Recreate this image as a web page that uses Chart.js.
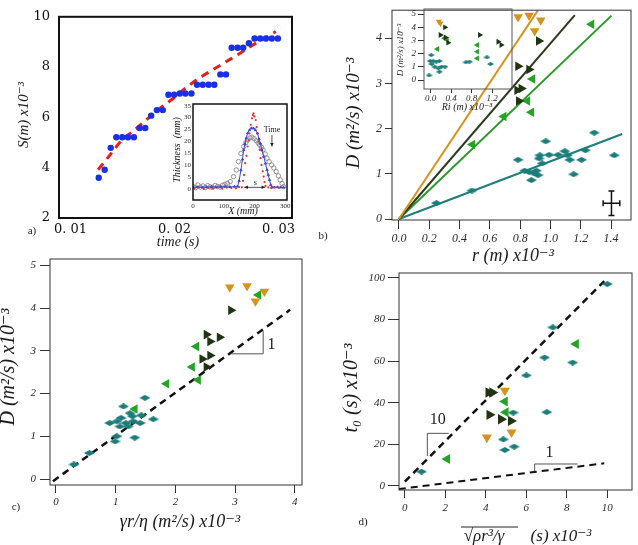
<!DOCTYPE html>
<html>
<head>
<meta charset="utf-8">
<script src="https://cdn.jsdelivr.net/npm/chart.js@4.4.1/dist/chart.umd.min.js"></script>
<style>
  html, body { margin: 0; padding: 0; background: #fff; }
  #page { position: relative; width: 638px; height: 545px; overflow: hidden; }
  #page canvas { position: absolute; left: 0; top: 0; }
</style>
</head>
<body>
<div id="page">
  <canvas id="chartA" width="638" height="545"></canvas>
  <canvas id="chartAInset" width="638" height="545"></canvas>
  <canvas id="chartB" width="638" height="545"></canvas>
  <canvas id="chartBInset" width="638" height="545"></canvas>
  <canvas id="chartC" width="638" height="545"></canvas>
  <canvas id="chartD" width="638" height="545"></canvas>
</div>
<script>
// panel a: spreading S vs time
const aTime = [0.01272, 0.01329, 0.01387, 0.01441, 0.01498, 0.01553, 0.0161, 0.01665, 0.01719, 0.01776, 0.01831, 0.01888, 0.01942, 0.01997, 0.02051, 0.02105, 0.02163, 0.02217, 0.02272, 0.02329, 0.02383, 0.02441, 0.02495, 0.0255, 0.02607, 0.02661, 0.02716, 0.0277, 0.02824, 0.02879, 0.02936, 0.02994];
const aS = [3.6, 3.92, 4.79, 5.21, 5.21, 5.21, 5.21, 5.58, 5.58, 6.07, 6.29, 6.29, 6.9, 6.9, 6.95, 6.95, 6.95, 7.3, 7.3, 7.3, 7.3, 7.71, 7.71, 8.77, 8.77, 8.77, 8.95, 9.14, 9.14, 9.14, 9.14, 9.14];
const aFitTime = [0.01265, 0.01377, 0.01489, 0.01601, 0.01728, 0.01856, 0.01984, 0.02112, 0.0224, 0.02367, 0.02495, 0.02623, 0.02751, 0.02879, 0.02974];
const aFitS = [3.92, 4.49, 5.07, 5.45, 5.9, 6.35, 6.74, 7.18, 7.57, 7.89, 8.21, 8.53, 8.87, 9.17, 9.42];
const aTicksX = [0.01, 0.02, 0.03];
const aTicksY = [2, 4, 6, 8, 10];

// inset of a: thickness profiles
const insetGrayX = [0, 8, 16, 24, 32, 40, 48, 56, 64, 72, 80, 88, 96, 104, 112, 121, 132, 141, 148, 156, 165, 172, 178, 185, 192, 199, 206, 212, 217, 223, 228, 235, 241, 248, 256, 263, 271, 278, 284, 290, 295];
const insetGrayY = [1.2, 0.6, 1.8, 0.9, 1.4, 0.7, 1.5, 1.0, 0.8, 1.6, 1.2, 0.9, 1.7, 2.0, 2.5, 3.2, 5.3, 8.1, 11.6, 15.0, 17.9, 19.5, 20.6, 21.5, 21.8, 21.2, 20.3, 19.4, 18.5, 17.6, 16.5, 14.8, 13.0, 11.5, 10.2, 8.9, 7.4, 5.6, 3.9, 2.4, 1.1];
const insetBlueX = [0, 15, 30, 45, 60, 75, 90, 105, 120, 135, 145, 150, 156, 161, 165, 169, 173, 178, 184, 190, 197, 203, 210, 215, 219, 224, 230, 236, 241, 245, 249, 253, 257, 265, 275, 285, 295];
const insetBlueY = [0.8, 0.9, 0.8, 0.9, 1.0, 0.9, 1.0, 1.1, 1.0, 1.1, 1.2, 3.5, 8.0, 12.5, 16.5, 19.0, 21.3, 23.5, 24.8, 25.6, 25.5, 24.8, 23.4, 21.0, 19.2, 16.5, 13.7, 10.8, 8.1, 6.0, 3.9, 1.8, 0.8, 0.8, 0.9, 0.8, 0.8];
const insetRedX = [5, 20, 35, 50, 65, 80, 95, 110, 125, 140, 150, 159, 163, 166, 170, 174, 178, 181, 184, 188, 192, 195, 197, 200, 204, 207, 210, 213, 217, 220, 223, 227, 230, 233, 236, 245, 255, 265, 280];
const insetRedY = [0.3, 0.8, 0.2, 0.6, 0.4, 0.9, 0.3, 0.7, 0.5, 0.4, 0.9, 0.8, 3.5, 6.0, 10.9, 14.0, 17.9, 20.5, 23.4, 27.0, 29.7, 31.0, 31.8, 30.5, 29.0, 26.0, 23.4, 20.0, 16.5, 13.0, 10.2, 7.5, 5.3, 3.0, 1.4, 0.8, 0.5, 0.9, 0.6];
const insetTicksX = [0, 100, 200, 300];
const insetTicksY = [0, 5, 10, 15, 20, 25, 30, 35];

// panel b: D vs r
const bTealX = [0.247, 0.482, 0.786, 0.859, 0.874, 0.892, 0.907, 0.918, 0.925, 0.93, 0.945, 0.969, 0.991, 1.051, 1.095, 1.112, 1.128, 1.154, 1.205, 1.231, 1.289, 1.421, 0.83];
const bTealY = [0.35, 0.63, 1.31, 1.04, 0.86, 1.01, 1.07, 0.97, 1.34, 1.41, 1.23, 1.72, 1.42, 1.42, 1.5, 1.41, 1.31, 0.99, 1.31, 1.52, 1.91, 1.41, 1.07];
const bGreenX = [0.485, 0.692, 0.848, 0.874, 0.881, 1.271];
const bGreenY = [1.65, 2.27, 2.61, 2.36, 3.1, 4.31];
const bDarkX = [0.786, 0.791, 0.78, 0.808, 0.859, 0.923];
const bDarkY = [3.38, 2.61, 2.85, 2.89, 3.31, 3.94];
const bOrangeX = [0.786, 0.859, 0.936, 0.896];
const bOrangeY = [4.47, 4.5, 4.4, 4.16];
const bFitOrangeX = [0, 0.918], bFitOrangeY = [0, 4.62];
const bFitDarkX = [0, 1.161], bFitDarkY = [0, 4.51];
const bFitGreenX = [0, 1.403], bFitGreenY = [0, 4.5];
const bFitTealX = [0, 1.474], bFitTealY = [0, 1.88];
const bErr = { x: 1.403, y: 0.35, dx: 0.055, dy: 0.27 };
const bTicksX = [0, 0.2, 0.4, 0.6, 0.8, 1.0, 1.2, 1.4];
const bTicksY = [0, 1, 2, 3, 4];

// inset of b: D vs Ri
const biTealX = [-0.03, 0.01, -0.01, 0.05, 0.11, 0.17, 0.02, 0.08, 0.15, 0.21, 0.28, 0.17, 0.69, 0.76, 1.1, 1.17];
const biTealY = [0.35, 1.89, 1.44, 1.44, 1.39, 1.44, 1.21, 1.01, 0.88, 1.01, 1.01, 0.63, 1.34, 1.39, 1.72, 1.21];
const biGreenX = [0.13, 0.27, 0.32, 0.91, 0.91, 0.91];
const biGreenY = [2.35, 3.16, 3.03, 2.65, 2.15, 1.64];
const biDarkX = [0.28, 0.19, 0.29, 0.34, 0.96, 1.32, 1.38];
const biDarkY = [3.99, 3.41, 3.23, 2.83, 3.41, 2.9, 2.65];
const biOrangeX = [0.16, 0.19];
const biOrangeY = [4.42, 4.29];
const biTicksX = [0, 0.4, 0.8, 1.2];
const biTicksY = [0, 1, 2, 3, 4, 5];

// panel c: D vs gamma r / eta
const cTealX = [0.3, 0.56, 0.99, 1.02, 0.9, 1.09, 1.13, 1.07, 1.17, 1.21, 1.28, 1.29, 1.41, 1.49, 1.63, 1.32, 1.02, 1.24, 1.43];
const cTealY = [0.34, 0.61, 0.88, 1.0, 1.31, 1.43, 1.7, 1.23, 1.31, 1.23, 1.47, 1.35, 1.31, 1.9, 1.4, 0.97, 1.35, 1.54, 1.49];
const cGreenX = [1.32, 1.85, 2.28, 2.35, 2.38, 3.39];
const cGreenY = [1.64, 2.23, 2.62, 3.1, 2.32, 4.31];
const cDarkX = [2.93, 2.52, 2.74, 2.45, 2.58, 2.58, 2.52];
const cDarkY = [3.95, 3.38, 3.32, 2.81, 2.89, 3.22, 2.62];
const cOrangeX = [2.91, 3.2, 3.49, 3.34];
const cOrangeY = [4.49, 4.52, 4.39, 4.16];
const cLineX = [-0.05, 3.92], cLineY = [-0.05, 3.96];
const cSlopeX = [2.94, 3.47, 3.47], cSlopeY = [2.93, 2.93, 3.46];
const cTicksX = [0, 1, 2, 3, 4];
const cTicksY = [0, 1, 2, 3, 4, 5];

// panel d: t0 vs sqrt(rho r^3 / gamma)
const dTealX = [0.82, 4.86, 4.94, 5.35, 5.4, 6.0, 6.9, 7.01, 7.31, 8.29, 10.0];
const dTealY = [6.75, 22.3, 17.2, 35.2, 18.8, 53.1, 61.7, 35.4, 76.2, 59.3, 97.1];
const dGreenX = [2.09, 4.94, 4.98, 8.45];
const dGreenY = [12.9, 40.5, 35.4, 68.2];
const dDarkX = [4.13, 4.32, 4.18, 4.75, 5.24];
const dDarkY = [44.9, 44.9, 34.1, 32.0, 31.2];
const dOrangeX = [4.05, 4.94, 5.27];
const dOrangeY = [23.2, 45.8, 25.7];
const dUpX = [0, 9.85], dUpY = [2, 98.5];
const dLowX = [-0.3, 9.85], dLowY = [-1.6, 10.8];
const dSlope10X = [1.11, 1.11, 2.17], dSlope10Y = [14.3, 25.2, 25.2];
const dSlope1X = [6.41, 6.41, 8.53], dSlope1Y = [6.75, 10.45, 10.45];
const dTicksX = [0, 2, 4, 6, 8, 10];
const dTicksY = [0, 20, 40, 60, 80, 100];

const W = 638, H = 545;
const SERIF = "'Liberation Serif', 'DejaVu Serif', serif";
const TEAL = "#1b7d7a", GREEN = "#25a326", DARK = "#1f3512", ORANGE = "#d8921c";

const pts = (xs, ys) => xs.map((x, i) => ({ x, y: ys[i] }));

function diamond(w, h, fill) {
  const c = document.createElement("canvas");
  c.width = w;
  c.height = h;
  const g = c.getContext("2d");
  g.fillStyle = fill;
  g.beginPath();
  g.moveTo(w / 2, 0);
  g.lineTo(w, h / 2);
  g.lineTo(w / 2, h);
  g.lineTo(0, h / 2);
  g.closePath();
  g.fill();
  return c;
}

function axis(o) {
  return {
    type: "linear",
    position: o.pos,
    min: o.min,
    max: o.max,
    afterBuildTicks: (s) => { s.ticks = o.ticks.map((v) => ({ value: v })); },
    afterFit: (s) => { if (o.pos === "left") s.width = o.size; else s.height = o.size; },
    grid: { display: o.tickLen > 0, drawOnChartArea: false, tickLength: o.tickLen, color: "#333", lineWidth: 1 },
    border: { display: false },
    ticks: { font: o.font, color: o.color || "#2a2a2a", padding: o.pad, callback: o.fmt, maxRotation: 0, autoSkip: false },
  };
}

function baseOptions(area, yW, xH) {
  return {
    responsive: false,
    animation: false,
    events: [],
    layout: { padding: { left: area.l - yW, top: area.t, right: W - area.r, bottom: H - area.b - xH } },
    plugins: { legend: { display: false }, tooltip: { enabled: false } },
  };
}

// frame round the plot area
function frame(color, width) {
  return {
    id: "frame",
    afterDatasetsDraw(chart) {
      const { ctx, chartArea: a } = chart;
      ctx.save();
      ctx.strokeStyle = color;
      ctx.lineWidth = width;
      ctx.strokeRect(a.left, a.top, a.right - a.left, a.bottom - a.top);
      ctx.restore();
    },
  };
}

// texts, arrows, error bars
function notes(spec) {
  return {
    id: "notes",
    afterDraw(chart) {
      const ctx = chart.ctx, sx = chart.scales.x, sy = chart.scales.y;
      const px = (v) => sx.getPixelForValue(v), py = (v) => sy.getPixelForValue(v);
      ctx.save();
      (spec.errbars || []).forEach((e) => {
        ctx.strokeStyle = "#111";
        ctx.lineWidth = 1.5;
        const x0 = px(e.x - e.dx), x1 = px(e.x + e.dx), y0 = py(e.y - e.dy), y1 = py(e.y + e.dy);
        const cx = px(e.x), cy = py(e.y);
        ctx.beginPath();
        ctx.moveTo(x0, cy); ctx.lineTo(x1, cy);
        ctx.moveTo(cx, y0); ctx.lineTo(cx, y1);
        ctx.moveTo(x0, cy - 3); ctx.lineTo(x0, cy + 3);
        ctx.moveTo(x1, cy - 3); ctx.lineTo(x1, cy + 3);
        ctx.moveTo(cx - 3, y0); ctx.lineTo(cx + 3, y0);
        ctx.moveTo(cx - 3, y1); ctx.lineTo(cx + 3, y1);
        ctx.stroke();
      });
      (spec.arrows || []).forEach((a) => {
        const x0 = px(a.from[0]), y0 = py(a.from[1]), x1 = px(a.to[0]), y1 = py(a.to[1]);
        ctx.strokeStyle = "#222";
        ctx.fillStyle = "#222";
        ctx.lineWidth = 0.8;
        ctx.beginPath(); ctx.moveTo(x0, y0); ctx.lineTo(x1, y1); ctx.stroke();
        const head = (xa, ya, xb, yb) => {
          const ang = Math.atan2(yb - ya, xb - xa);
          ctx.beginPath();
          ctx.moveTo(xb, yb);
          ctx.lineTo(xb - 4 * Math.cos(ang - 0.45), yb - 4 * Math.sin(ang - 0.45));
          ctx.lineTo(xb - 4 * Math.cos(ang + 0.45), yb - 4 * Math.sin(ang + 0.45));
          ctx.closePath();
          ctx.fill();
        };
        head(x0, y0, x1, y1);
        if (a.both) head(x1, y1, x0, y0);
      });
      (spec.lines || []).forEach((l) => {
        ctx.strokeStyle = l.color || "#222";
        ctx.lineWidth = l.width || 1;
        ctx.beginPath(); ctx.moveTo(l.x0, l.y0); ctx.lineTo(l.x1, l.y1); ctx.stroke();
      });
      (spec.texts || []).forEach((t) => {
        const x = t.xv !== undefined ? px(t.xv) : t.x;
        const y = t.yv !== undefined ? py(t.yv) : t.y;
        ctx.save();
        ctx.translate(x, y);
        if (t.rot) ctx.rotate((t.rot * Math.PI) / 180);
        ctx.font = t.font;
        ctx.fillStyle = t.color || "#1a1a1a";
        ctx.textAlign = t.align || "center";
        ctx.textBaseline = "middle";
        ctx.fillText(t.text, 0, 0);
        ctx.restore();
      });
      ctx.restore();
    },
  };
}

function scatterSet(xs, ys, style, color, size) {
  const d = { data: pts(xs, ys), backgroundColor: color, borderColor: color, borderWidth: 0, pointRadius: size };
  if (style === "diamond") {
    d.pointStyle = diamond(Math.round(size * 2.2), Math.round(size * 1.2), color);
  } else if (style) {
    d.pointStyle = "triangle";
    d.pointRotation = { left: 270, right: 90, down: 180 }[style];
  }
  return d;
}

function lineSet(xs, ys, color, width, dash) {
  return { data: pts(xs, ys), showLine: true, borderColor: color, borderWidth: width, borderDash: dash || [], pointRadius: 0, fill: false };
}

const italic = (s) => ({ family: SERIF, size: s, style: "italic" });

// ---------- a ----------
const areaA = { l: 59, t: 10, r: 292, b: 218 };
new Chart(document.getElementById("chartA"), {
  type: "scatter",
  data: {
    datasets: [
      { data: pts(aTime, aS), backgroundColor: "#1b30e4", borderWidth: 0, pointRadius: 3.2 },
      { data: pts(aFitTime, aFitS), showLine: true, borderColor: "#e3201b", borderWidth: 3, borderDash: [8, 6], pointRadius: 0, tension: 0.4, cubicInterpolationMode: "monotone" },
    ],
  },
  options: Object.assign(baseOptions(areaA, 45, 25), {
    scales: {
      x: axis({ pos: "bottom", min: 0.0089, max: 0.0313, ticks: aTicksX, size: 25, tickLen: 0, pad: 4, color: "#111",
        font: { family: "'DejaVu Serif', serif", size: 13 }, fmt: (v) => v.toFixed(2).replace(".", ". ") }),
      y: axis({ pos: "left", min: 2, max: 10, ticks: aTicksY, size: 45, tickLen: 0, pad: 9, color: "#111",
        font: { family: "'DejaVu Serif', serif", size: 13 }, fmt: (v) => String(v) }),
    },
  }),
  plugins: [
    frame("#111", 2),
    notes({
      texts: [
        { text: "S(m) x10⁻³", x: 24, y: 115, rot: -90, font: "italic 15px " + SERIF },
        { text: "time (s)", x: 178, y: 242, font: "italic 14px " + SERIF },
        { text: "a)", x: 32, y: 231, font: "11px " + SERIF },
      ],
    }),
  ],
});

// ---------- inset a ----------
const areaAI = { l: 193, t: 104, r: 287, b: 200 };
new Chart(document.getElementById("chartAInset"), {
  type: "scatter",
  data: {
    datasets: [
      { data: pts(insetRedX, insetRedY), backgroundColor: "#e53030", borderWidth: 0, pointRadius: 1.1 },
      { data: pts(insetBlueX, insetBlueY), showLine: true, borderColor: "#3a48d8", borderWidth: 1, backgroundColor: "#3a48d8", pointRadius: 1.3, pointStyle: "triangle" },
      { data: pts(insetGrayX, insetGrayY), backgroundColor: "rgba(0,0,0,0)", borderColor: "#7a7a7a", borderWidth: 0.8, pointRadius: 2.2 },
    ],
  },
  options: Object.assign(baseOptions(areaAI, 12, 12), {
    scales: {
      x: axis({ pos: "bottom", min: 0, max: 306, ticks: insetTicksX, size: 12, tickLen: 0, pad: 2, font: { family: SERIF, size: 7 }, fmt: (v) => String(v) }),
      y: axis({ pos: "left", min: -4.5, max: 35.7, ticks: insetTicksY, size: 12, tickLen: 0, pad: 2, font: { family: SERIF, size: 7 }, fmt: (v) => String(v) }),
    },
  }),
  plugins: [
    frame("#111", 1.5),
    notes({
      arrows: [
        { from: [257, 22.7], to: [257, 17.9] },
        { from: [167, 0.8], to: [235, 0.8], both: true },
      ],
      texts: [
        { text: "Thickness  (mm)", x: 177, y: 150, rot: -90, font: "italic 10px " + SERIF },
        { text: "X (mm)", x: 243, y: 211, font: "italic 10px " + SERIF },
        { text: "Time", xv: 257, yv: 24.8, font: "8px " + SERIF },
        { text: "s", xv: 203, yv: 2.6, font: "8px " + SERIF },
      ],
    }),
  ],
});

// ---------- b ----------
const areaB = { l: 392, t: 8, r: 631, b: 220 };
new Chart(document.getElementById("chartB"), {
  type: "scatter",
  data: {
    datasets: [
      scatterSet(bOrangeX, bOrangeY, "down", ORANGE, 5.5),
      scatterSet(bDarkX, bDarkY, "right", DARK, 5.5),
      scatterSet(bGreenX, bGreenY, "left", GREEN, 5.5),
      scatterSet(bTealX, bTealY, "diamond", TEAL, 5),
      lineSet(bFitOrangeX, bFitOrangeY, ORANGE, 2),
      lineSet(bFitDarkX, bFitDarkY, "#2b3a1c", 2),
      lineSet(bFitGreenX, bFitGreenY, "#2a9a2a", 2),
      lineSet(bFitTealX, bFitTealY, "#1f7d7a", 2),
    ],
  },
  options: Object.assign(baseOptions(areaB, 30, 30), {
    scales: {
      x: axis({ pos: "bottom", min: -0.046, max: 1.532, ticks: bTicksX, size: 30, tickLen: 9, pad: 3, font: italic(12), fmt: (v) => v.toFixed(1) }),
      y: axis({ pos: "left", min: -0.022, max: 4.62, ticks: bTicksY, size: 30, tickLen: 7, pad: 3, font: italic(12), fmt: (v) => String(v) }),
    },
  }),
  plugins: [
    frame("#333", 1),
    notes({
      errbars: [bErr],
      texts: [
        { text: "D (m²/s) x10⁻³", x: 354, y: 113, rot: -90, font: "italic 19px " + SERIF },
        { text: "r (m) x10⁻³", x: 513, y: 256, font: "italic 18px " + SERIF },
        { text: "b)", x: 323, y: 236, font: "11px " + SERIF },
      ],
    }),
  ],
});

// ---------- inset b ----------
const areaBI = { l: 424, t: 9, r: 512, b: 89 };
new Chart(document.getElementById("chartBInset"), {
  type: "scatter",
  data: {
    datasets: [
      scatterSet(biOrangeX, biOrangeY, "down", ORANGE, 3.6),
      scatterSet(biDarkX, biDarkY, "right", DARK, 3.4),
      scatterSet(biGreenX, biGreenY, "left", GREEN, 3.4),
      scatterSet(biTealX, biTealY, "diamond", TEAL, 3.4),
    ],
  },
  options: Object.assign(baseOptions(areaBI, 14, 14), {
    scales: {
      x: axis({ pos: "bottom", min: -0.13, max: 1.59, ticks: biTicksX, size: 14, tickLen: 4, pad: 0, font: italic(9), fmt: (v) => v.toFixed(1) }),
      y: axis({ pos: "left", min: -0.68, max: 5.38, ticks: biTicksY, size: 14, tickLen: 6, pad: 2, font: italic(9), fmt: (v) => String(v) }),
    },
  }),
  plugins: [
    frame("#555", 1),
    notes({
      texts: [
        { text: "D (m²/s) x10⁻³", x: 401, y: 50, rot: -90, font: "italic 9px " + SERIF },
        { text: "Ri (m) x10⁻³", x: 467, y: 107, font: "italic 10px " + SERIF },
      ],
    }),
  ],
});

// ---------- c ----------
const areaC = { l: 50, t: 259, r: 302, b: 485 };
new Chart(document.getElementById("chartC"), {
  type: "scatter",
  data: {
    datasets: [
      scatterSet(cOrangeX, cOrangeY, "down", ORANGE, 5.5),
      scatterSet(cGreenX, cGreenY, "left", GREEN, 5.5),
      scatterSet(cDarkX, cDarkY, "right", DARK, 5.5),
      scatterSet(cTealX, cTealY, "diamond", TEAL, 5.2),
      lineSet(cLineX, cLineY, "#111", 2.5, [7, 5]),
      lineSet(cSlopeX, cSlopeY, "#555", 1),
    ],
  },
  options: Object.assign(baseOptions(areaC, 28, 22), {
    scales: {
      x: axis({ pos: "bottom", min: -0.1, max: 4.12, ticks: cTicksX, size: 22, tickLen: 8, pad: 3, font: italic(11), fmt: (v) => String(v) }),
      y: axis({ pos: "left", min: -0.14, max: 5.15, ticks: cTicksY, size: 28, tickLen: 10, pad: 4, font: italic(11), fmt: (v) => String(v) }),
    },
  }),
  plugins: [
    frame("#333", 1),
    notes({
      texts: [
        { text: "1", xv: 3.61, yv: 3.14, font: "16px " + SERIF },
        { text: "D (m²/s) x10⁻³", x: 9, y: 367, rot: -90, font: "italic 20px " + SERIF },
        { text: "γr/η (m²/s) x10⁻³", x: 180, y: 522, font: "italic 18px " + SERIF },
        { text: "c)", x: 16, y: 507, font: "11px " + SERIF },
      ],
    }),
  ],
});

// ---------- d ----------
const areaD = { l: 399, t: 273, r: 635, b: 490 };
new Chart(document.getElementById("chartD"), {
  type: "scatter",
  data: {
    datasets: [
      scatterSet(dOrangeX, dOrangeY, "down", ORANGE, 5.8),
      scatterSet(dGreenX, dGreenY, "left", GREEN, 5.8),
      scatterSet(dDarkX, dDarkY, "right", DARK, 6),
      scatterSet(dTealX, dTealY, "diamond", TEAL, 5),
      lineSet(dUpX, dUpY, "#111", 2.5, [7, 5]),
      lineSet(dLowX, dLowY, "#111", 2, [7, 5]),
      lineSet(dSlope10X, dSlope10Y, "#555", 1),
      lineSet(dSlope1X, dSlope1Y, "#555", 1),
    ],
  },
  options: Object.assign(baseOptions(areaD, 30, 22), {
    scales: {
      x: axis({ pos: "bottom", min: -0.29, max: 11.22, ticks: dTicksX, size: 22, tickLen: 8, pad: 4, font: italic(11), fmt: (v) => String(v) }),
      y: axis({ pos: "left", min: -2.07, max: 102.4, ticks: dTicksY, size: 30, tickLen: 11, pad: 3, font: italic(11), fmt: (v) => String(v) }),
    },
  }),
  plugins: [
    frame("#333", 1),
    notes({
      lines: [{ x0: 461, y0: 527, x1: 518, y1: 527, width: 1, color: "#222" }],
      texts: [
        { text: "10", xv: 1.63, yv: 31.7, font: "16px " + SERIF },
        { text: "1", xv: 7.15, yv: 15.6, font: "16px " + SERIF },
        { text: "t₀ (s) x10⁻³", x: 352, y: 388, rot: -90, font: "italic 20px " + SERIF },
        { text: "√ρr³/γ", x: 484, y: 537, font: "italic 17px " + SERIF },
        { text: "(s) x10⁻³", x: 561, y: 537, font: "italic 17px " + SERIF },
        { text: "d)", x: 363, y: 522, font: "11px " + SERIF },
      ],
    }),
  ],
});
</script>
</body>
</html>
